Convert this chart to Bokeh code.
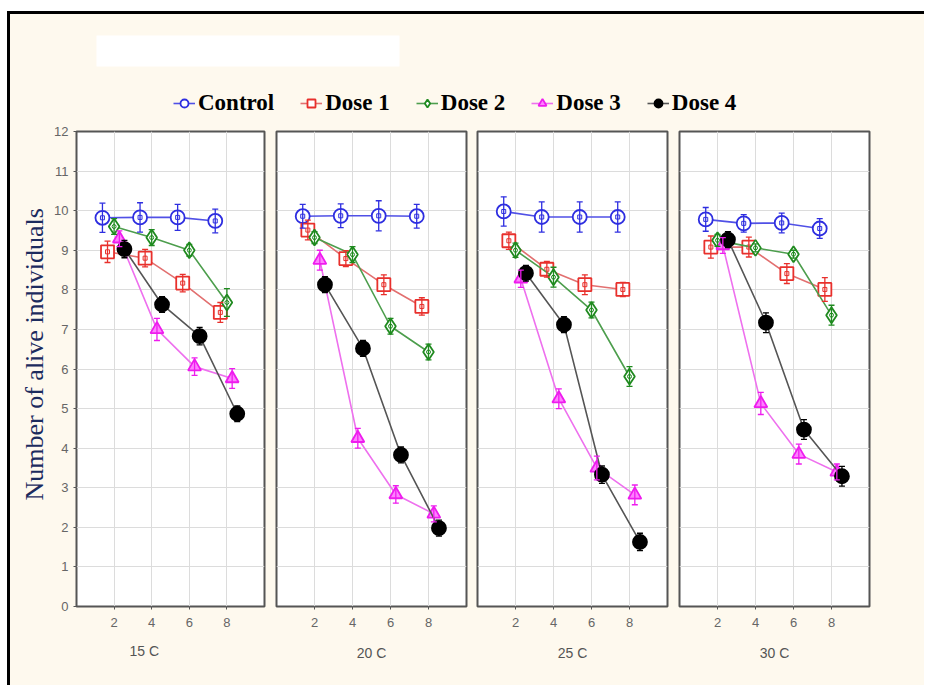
from bokeh.plotting import figure
from bokeh.models import (ColumnDataSource, Whisker, TeeHead, Range1d, Legend, LegendItem,
                          BoxAnnotation, FixedTicker, SingleIntervalTicker, Row, Column, Title)
from bokeh.transform import dodge
from bokeh.embed import file_html
from bokeh.resources import INLINE

# ---------------- data ----------------
temps = ["15 C", "20 C", "25 C", "30 C"]
times = [2, 4, 6, 8]
series = ["Control", "Dose 1", "Dose 2", "Dose 3", "Dose 4"]

control = {"15 C": [9.82, 9.83, 9.83, 9.74], "20 C": [9.86, 9.87, 9.87, 9.86],
           "25 C": [9.98, 9.84, 9.84, 9.84], "30 C": [9.78, 9.68, 9.69, 9.55]}
dose1 = {"15 C": [8.96, 8.80, 8.17, 7.43], "20 C": [9.51, 8.79, 8.13, 7.58],
         "25 C": [9.24, 8.52, 8.13, 8.01], "30 C": [9.08, 9.08, 8.41, 8.01]}
dose2 = {"15 C": [9.60, 9.32, 9.00, 7.68], "20 C": [9.32, 8.89, 7.08, 6.43],
         "25 C": [9.00, 8.32, 7.49, 5.81], "30 C": [9.25, 9.06, 8.90, 7.36]}
dose3 = {"15 C": [9.29, 7.00, 6.06, 5.76], "20 C": [8.75, 4.25, 2.83, 2.34],
         "25 C": [8.28, 5.25, 3.50, 2.82], "30 C": [9.12, 5.13, 3.85, 3.40]}
dose4 = {"15 C": [9.03, 7.63, 6.83, 4.87], "20 C": [8.13, 6.52, 3.83, 1.98],
         "25 C": [8.42, 7.12, 3.33, 1.63], "30 C": [9.27, 7.17, 4.47, 3.29]}

control_err = {"15 C": [0.37, 0.37, 0.33, 0.30], "20 C": [0.30, 0.30, 0.38, 0.30],
               "25 C": [0.37, 0.38, 0.38, 0.38], "30 C": [0.30, 0.22, 0.25, 0.25]}
dose1_err = {"15 C": [0.27, 0.22, 0.22, 0.25], "20 C": [0.25, 0.20, 0.25, 0.22],
             "25 C": [0.22, 0.20, 0.25, 0.18], "30 C": [0.28, 0.25, 0.25, 0.30]}
dose2_err = {"15 C": [0.20, 0.20, 0.15, 0.35], "20 C": [0.15, 0.20, 0.20, 0.20],
             "25 C": [0.18, 0.25, 0.20, 0.25], "30 C": [0.15, 0.10, 0.10, 0.25]}
dose3_err = {"15 C": [0.20, 0.28, 0.22, 0.25], "20 C": [0.25, 0.25, 0.22, 0.20],
             "25 C": [0.22, 0.25, 0.30, 0.25], "30 C": [0.20, 0.28, 0.25, 0.20]}
dose4_err = {"15 C": [0.22, 0.20, 0.22, 0.20], "20 C": [0.20, 0.20, 0.20, 0.20],
             "25 C": [0.20, 0.20, 0.22, 0.22], "30 C": [0.20, 0.25, 0.25, 0.25]}

values = {"Control": control, "Dose 1": dose1, "Dose 2": dose2, "Dose 3": dose3, "Dose 4": dose4}
errors = {"Control": control_err, "Dose 1": dose1_err, "Dose 2": dose2_err,
          "Dose 3": dose3_err, "Dose 4": dose4_err}

y_label = "Number of alive individuals"

# ---------------- styles ----------------
CREAM = "#fef9ee"
style = {
    "Control": dict(off=-0.62, marker="circle", size=14, color="#2e2ee0", line="#5050e6",
                    fill="white", inner="square"),
    "Dose 1": dict(off=-0.35, marker="square", size=13, color="#e8302c", line="#e27070",
                   fill="white", inner="square"),
    "Dose 2": dict(off=0.0, marker="diamond", size=16, color="#1f8a1f", line="#4d9e4d",
                   fill="white", inner="circle"),
    "Dose 3": dict(off=0.28, marker="triangle", size=13, color="#ee1cee", line="#ee70ee",
                   fill="#ff80ff", inner=None),
    "Dose 4": dict(off=0.55, marker="circle", size=14, color="#000000", line="#555555",
                   fill="#000000", inner=None),
}

TICK_FONT = "Liberation Sans"
TICK_COLOR = "#666666"


def make_panel(i, temp):
    first = i == 0
    last = i == len(temps) - 1
    mbl = 66 if first else 6
    mbr = 55 if last else (5 if i == 1 else 6)
    fw = 188 if first else 190
    p = figure(frame_width=fw, frame_height=475,
               x_range=Range1d(0, 10), y_range=Range1d(0, 12),
               output_backend="svg", toolbar_location=None,
               min_border_left=mbl, min_border_right=mbr,
               min_border_top=10, min_border_bottom=79,
               background_fill_color="white", border_fill_color=CREAM,
               outline_line_color="#555555", outline_line_width=2)
    # x axis
    xa = p.xaxis[0]
    xa.ticker = FixedTicker(ticks=times)
    xa.axis_line_color = None
    xa.major_tick_line_color = "#555555"
    xa.major_tick_in = 0
    xa.major_tick_out = 3
    xa.minor_tick_line_color = None
    xa.major_label_text_font = TICK_FONT
    xa.major_label_text_font_size = "13px"
    xa.major_label_text_color = TICK_COLOR
    xa.major_label_standoff = 8
    if first:
        p.add_layout(Title(text=temp, align="left", offset=53, standoff=22,
                           text_font=TICK_FONT, text_font_size="14px",
                           text_font_style="normal", text_color="#555555"), "below")
    else:
        xa.axis_label = temp
        xa.axis_label_text_font = TICK_FONT
        xa.axis_label_text_font_size = "14px"
        xa.axis_label_text_font_style = "normal"
        xa.axis_label_text_color = "#555555"
        xa.axis_label_standoff = 15
    # y axis
    ya = p.yaxis[0]
    ya.ticker = SingleIntervalTicker(interval=1)
    if first:
        ya.axis_line_color = None
        ya.major_tick_line_color = "#555555"
        ya.major_tick_in = 0
        ya.major_tick_out = 3
        ya.minor_tick_line_color = None
        ya.major_label_text_font = TICK_FONT
        ya.major_label_text_font_size = "13px"
        ya.major_label_text_color = TICK_COLOR
        ya.major_label_standoff = 4
        p.add_layout(Title(text=y_label, align="left", offset=106, standoff=6,
                           text_font="Liberation Serif", text_font_size="26px",
                           text_font_style="normal", text_color="#1c2b5e"), "left")
    else:
        ya.visible = False
    p.grid.grid_line_color = "#dcdcdc"
    p.grid.grid_line_width = 1

    for s in series:
        st = style[s]
        v = values[s][temp]
        e = errors[s][temp]
        src = ColumnDataSource(dict(time=times, y=v,
                                    lo=[a - b for a, b in zip(v, e)],
                                    hi=[a + b for a, b in zip(v, e)]))
        xd = dodge("time", st["off"], range=p.x_range)
        p.line(x=xd, y="y", source=src, line_color=st["line"], line_width=1.6)
        w = Whisker(base=xd, upper="hi", lower="lo", source=src, dimension="height",
                    line_color=st["color"], line_width=1.3, level="glyph",
                    upper_head=TeeHead(size=6, line_color=st["color"], line_width=1.3),
                    lower_head=TeeHead(size=6, line_color=st["color"], line_width=1.3))
        p.add_layout(w)
        p.scatter(x=xd, y="y", source=src, marker=st["marker"], size=st["size"],
                  line_color=st["color"], fill_color=st["fill"], line_width=1.8)
        if st["inner"]:
            p.scatter(x=xd, y="y", source=src, marker=st["inner"], size=4,
                      line_color=st["color"], fill_color=None, line_width=1)
    return p


panels = [make_panel(i, t) for i, t in enumerate(temps)]

# ---------------- legend strip ----------------
NAN = float("nan")
lf = figure(width=914, height=107, x_range=Range1d(0, 914), y_range=Range1d(107, 0),
            x_axis_location=None, y_axis_location=None,
            output_backend="svg", toolbar_location=None, min_border=0,
            background_fill_color=CREAM, border_fill_color=CREAM, outline_line_color=None)
lf.grid.visible = False
lf.add_layout(BoxAnnotation(left=86, right=389, top=21, bottom=52,
                            fill_color="white", fill_alpha=1, line_color=None))
items = []
for s in series:
    st = style[s]
    dummy = ColumnDataSource(dict(x=[NAN], y=[NAN]))
    r_line = lf.line(x="x", y="y", source=dummy, line_color=st["line"], line_width=1.6)
    r_pt = lf.scatter(x="x", y="y", source=dummy, marker=st["marker"], size=st["size"] - 2,
                      line_color=st["color"], fill_color=st["fill"], line_width=1.8)
    items.append(LegendItem(label=s, renderers=[r_line, r_pt]))
legend = Legend(items=items, orientation="horizontal", location=(163, 5),
                background_fill_alpha=0, border_line_color=None,
                label_text_font="Liberation Serif", label_text_font_style="bold",
                label_text_font_size="23px", label_text_color="#000000",
                glyph_width=22, glyph_height=20, spacing=26, padding=0, margin=0,
                label_standoff=3)
lf.add_layout(legend)

layout = Column(lf, Row(*panels, spacing=0), spacing=0,
                styles={"border-top": "3px solid black", "border-left": "3px solid black",
                        "margin-top": "11px", "margin-left": "7px",
                        "background-color": CREAM})

open("out.html", "w").write(file_html(layout, INLINE))
